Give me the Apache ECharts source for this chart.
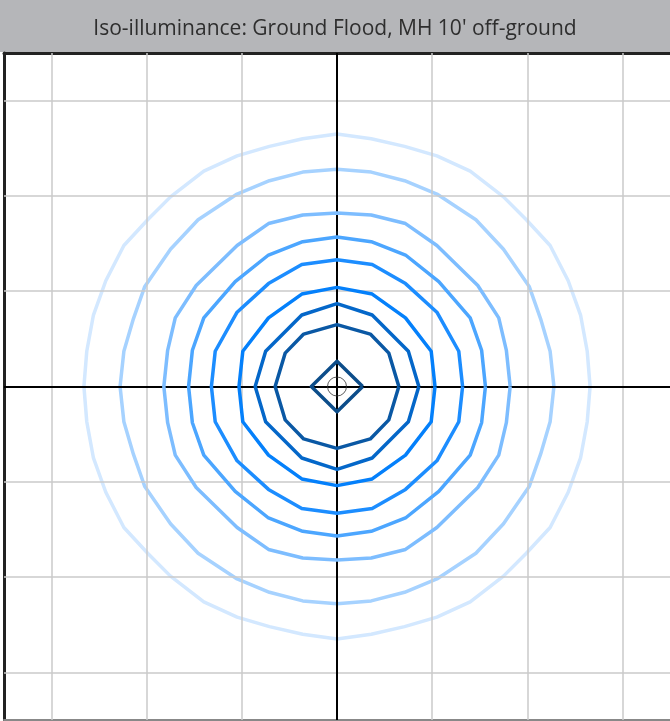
<!DOCTYPE html>
<html>
<head>
<meta charset="utf-8">
<script src="https://cdn.jsdelivr.net/npm/echarts@6/dist/echarts.min.js"></script>
<style>
html,body{margin:0;padding:0;background:#fff;}
#chart{width:670px;height:721px;}
</style>
</head>
<body>
<div id="chart"></div>
<script>
const titleText = "Iso-illuminance: Ground Flood, MH 10' off-ground";
const axisRange = [-3.5, 3.5];
const gridValues = [-3, -2, -1, 1, 2, 3];
const diamondQuadrant = [[0.27, 0], [0, 0.265]];
const ring2Quadrant = [[0.65, 0], [0.545, 0.35], [0.35, 0.55], [0, 0.65]];
const ring3Quadrant = [[0.86, 0], [0.75, 0.37], [0.37, 0.75], [0, 0.87]];
const ring4Quadrant = [[1.03, 0], [0.99, 0.37], [0.72, 0.72], [0.37, 0.97], [0, 1.04]];
const ring5Quadrant = [[1.32, 0], [1.28, 0.37], [1.05, 0.78], [0.72, 1.08], [0.37, 1.28], [0, 1.33]];
const ring6Quadrant = [[1.56, 0], [1.52, 0.38], [1.40, 0.72], [1.07, 1.10], [0.72, 1.38], [0.36, 1.52], [0, 1.57]];
const ring7Quadrant = [[1.82, 0], [1.78, 0.38], [1.70, 0.72], [1.48, 1.06], [1.05, 1.48], [0.72, 1.71], [0.36, 1.80], [0, 1.82]];
const ring8Quadrant = [[2.28, 0], [2.24, 0.37], [2.14, 0.71], [2.02, 1.05], [1.75, 1.44], [1.46, 1.75], [1.05, 2.02], [0.71, 2.16], [0.36, 2.25], [0, 2.28]];
const ring9Quadrant = [[2.66, 0], [2.63, 0.37], [2.56, 0.75], [2.43, 1.11], [2.24, 1.48], [1.99, 1.75], [1.75, 1.99], [1.40, 2.26], [1.05, 2.42], [0.71, 2.52], [0.36, 2.60], [0, 2.65]];
const contourQuadrants = [ring9Quadrant, ring8Quadrant, ring7Quadrant, ring6Quadrant, ring5Quadrant, ring4Quadrant, ring3Quadrant, ring2Quadrant, diamondQuadrant];
const contourColors = ['#d3e8ff', '#a6d2ff', '#7dbdff', '#4ca6ff', '#1c8dff', '#0480fb', '#0467c9', '#0a58a4', '#0c4d8a'];
const luminairePos = [[0, 0]];

function closeLoop(q) {
  const pts = [];
  q.forEach(p => pts.push([p[0], p[1]]));
  q.slice().reverse().forEach(p => pts.push([-p[0], p[1]]));
  q.forEach(p => pts.push([-p[0], -p[1]]));
  q.slice().reverse().forEach(p => pts.push([p[0], -p[1]]));
  pts.push([q[0][0], q[0][1]]);
  return pts;
}

const chart = echarts.init(document.getElementById('chart'), null, {renderer: 'canvas'});

const series = [];
series.push({
  type: 'line', data: [], silent: true,
  markLine: {
    silent: true, symbol: ['none', 'none'], label: {show: false},
    lineStyle: {color: '#cacaca', width: 1.5, type: 'solid'},
    data: gridValues.map(v => ({xAxis: v})).concat(gridValues.map(v => ({yAxis: v})))
  },
  z: 1
});
series.push({
  type: 'line', data: [], silent: true,
  markLine: {
    silent: true, symbol: ['none', 'none'], label: {show: false},
    lineStyle: {color: '#000', width: 2, type: 'solid'},
    data: [{xAxis: 0}, {yAxis: 0}]
  },
  z: 2
});
contourQuadrants.forEach((q, i) => {
  series.push({
    type: 'line', data: closeLoop(q), showSymbol: false, smooth: false,
    lineStyle: {color: contourColors[i], width: 3.5, join: 'round'},
    itemStyle: {color: contourColors[i]},
    silent: true, z: 3 + i, animation: false
  });
});
series.push({
  type: 'scatter', data: luminairePos, symbol: 'circle', symbolSize: 19,
  itemStyle: {color: 'rgba(0,0,0,0)', borderColor: '#333', borderWidth: 1},
  silent: true, z: 20
});

const axisBase = {
  type: 'value', min: axisRange[0], max: axisRange[1],
  axisTick: {show: false}, axisLabel: {show: false}, splitLine: {show: false}
};

chart.setOption({
  animation: false,
  backgroundColor: '#fff',
  graphic: [{
    type: 'rect', left: 0, top: 0, z: 0,
    shape: {width: 670, height: 52},
    style: {fill: '#b5b6b9'}
  }],
  title: {
    text: titleText, left: 'center', top: 14,
    textStyle: {fontFamily: 'Open Sans', fontWeight: 'normal', fontSize: 21, color: '#2e2e2e'}
  },
  grid: {left: 4, right: 0, top: 53, bottom: 1, containLabel: false},
  xAxis: [
    Object.assign({}, axisBase, {position: 'bottom', axisLine: {show: true, onZero: false, lineStyle: {color: '#888', width: 2}}}),
    Object.assign({}, axisBase, {position: 'top', axisLine: {show: true, onZero: false, lineStyle: {color: '#222', width: 3}}})
  ],
  yAxis: [
    Object.assign({}, axisBase, {position: 'left', axisLine: {show: true, onZero: false, lineStyle: {color: '#222', width: 3}}})
  ],
  series: series
});
</script>
</body>
</html>
